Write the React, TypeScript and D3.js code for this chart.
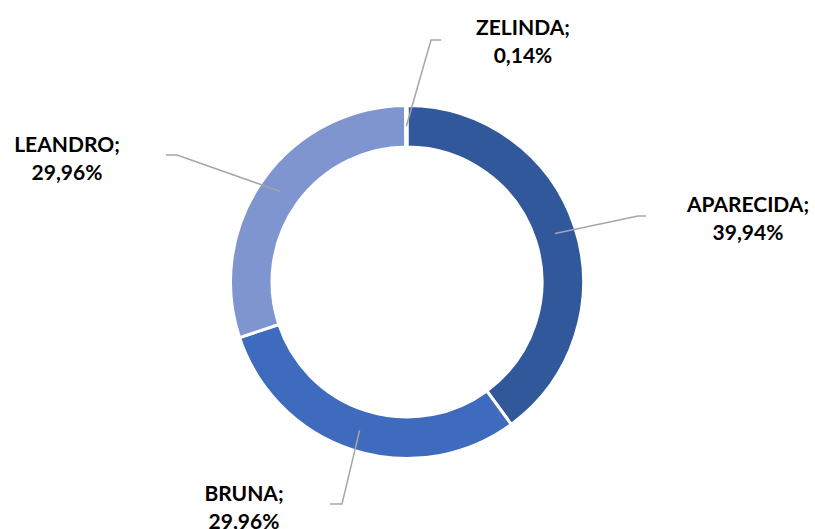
import React, { useRef, useEffect } from "react";
import * as d3 from "d3";

const names = ["APARECIDA", "BRUNA", "LEANDRO", "ZELINDA"];
const shares = [39.94, 29.96, 29.96, 0.14];
const colors = ["#30589A", "#3E6BBD", "#7E95D0", "#5B7CC6"];

// label placement: first baseline, elbow and end of the leader line
const labelLayout = [
  { tx: 748, ty: 212, elbow: [638, 216], end: [646, 216] },
  { tx: 244, ty: 501, elbow: [342, 504], end: [330, 504] },
  { tx: 67, ty: 152, elbow: [177, 155], end: [166, 155] },
  { tx: 523, ty: 35, elbow: [431, 40], end: [441, 40] },
];

export default function App() {
  const ref = useRef<SVGSVGElement>(null);

  useEffect(() => {
    const width = 815;
    const height = 529;
    const cx = 407;
    const cy = 282;
    const outer = 176.5;
    const inner = 135;
    const lineGap = 28;

    const svg = d3.select(ref.current);
    svg.selectAll("*").remove();
    svg.attr("width", width).attr("height", height);

    const data = names.map((n, i) => ({ name: n, value: shares[i], i }));
    const pie = d3.pie<any>().sort(null).value(d => d.value);
    const arcs = pie(data);
    const arc = d3.arc<any>().innerRadius(inner).outerRadius(outer);
    const mid = d3.arc<any>().innerRadius((inner + outer) / 2).outerRadius((inner + outer) / 2);

    const g = svg.append("g").attr("transform", `translate(${cx},${cy})`);

    g.selectAll("path.slice")
      .data(arcs)
      .enter()
      .append("path")
      .attr("d", arc)
      .attr("fill", d => colors[d.data.i])
      .attr("stroke", "#fff")
      .attr("stroke-width", 3)
      .attr("stroke-linejoin", "round");

    // leader lines + labels
    arcs.forEach(a => {
      const L = labelLayout[a.data.i];
      const [sx, sy] = mid.centroid(a);
      svg.append("polyline")
        .attr("points", `${cx + sx},${cy + sy} ${L.elbow[0]},${L.elbow[1]} ${L.end[0]},${L.end[1]}`)
        .attr("fill", "none")
        .attr("stroke", "#A6A6A6")
        .attr("stroke-width", 1.5);

      const t = svg.append("text")
        .attr("text-anchor", "middle")
        .style("font-family", "Lato, 'Open Sans', sans-serif")
        .style("font-weight", "bold")
        .style("font-size", "21px")
        .attr("fill", "#000");
      t.append("tspan").attr("x", L.tx).attr("y", L.ty).text(`${a.data.name};`);
      t.append("tspan").attr("x", L.tx).attr("y", L.ty + lineGap)
        .text(`${a.data.value.toFixed(2).replace(".", ",")}%`);
    });
  }, []);

  return (
    <div style={{ position: "absolute", left: 0, top: 0 }}>
      <svg ref={ref} style={{ display: "block" }}></svg>
    </div>
  );
}
